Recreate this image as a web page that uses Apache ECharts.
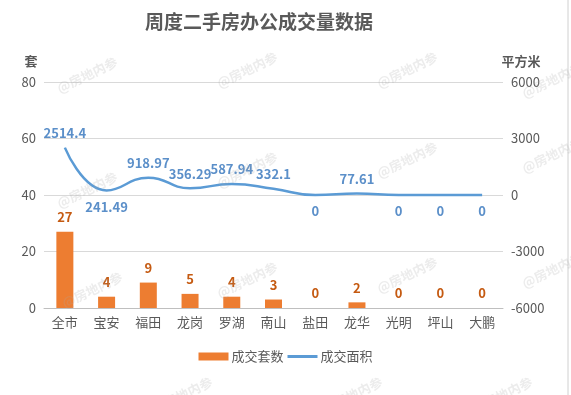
<!DOCTYPE html>
<html><head><meta charset="utf-8">
<script src="https://cdn.jsdelivr.net/npm/echarts@6/dist/echarts.min.js"></script>
<style>html,body{margin:0;padding:0;background:#fff}#c{width:571px;height:395px}</style>
</head><body><div id="c"></div>
<script>
const categories = ['全市','宝安','福田','龙岗','罗湖','南山','盐田','龙华','光明','坪山','大鹏'];
const units = [27,4,9,5,4,3,0,2,0,0,0];
const area = [2514.4,241.49,918.97,356.29,587.94,332.1,0,77.61,0,0,0];
const areaLabelBelow = [false,true,false,false,false,false,true,false,true,true,true];
const leftTicks = [0,80,20];
const rightTicks = [-6000,6000,3000];

const font = '"Noto Sans CJK SC", sans-serif';
const chart = echarts.init(document.getElementById('c'));
const wm = [];
const wmPos = [[55,55],[215,50],[375,50],[520,60],[55,170],[215,150],[375,140],[520,135],[60,270],[215,260],[375,255],[520,250],[150,375],[320,375],[470,375]];
wmPos.forEach(p=>wm.push({type:'text',left:p[0],top:p[1],rotation:Math.PI/7,z:100,style:{text:'@房地内参',fill:'rgba(170,170,170,0.22)',font:'bold 13px '+font}}));
chart.setOption({
  animation:false,
  textStyle:{fontFamily:font},
  title:{text:'周度二手房办公成交量数据',left:140,top:7,textStyle:{fontSize:19,fontWeight:'bold',color:'#595959',fontFamily:font}},
  legend:{bottom:27,left:'center',itemGap:4,itemWidth:30,itemHeight:8,textStyle:{color:'#595959',fontSize:13,padding:[0,0,0,-2]},
    data:[{name:'成交套数',icon:'rect'},{name:'成交面积',icon:'path://M0,0h30v3h-30z'}]},
  grid:{left:44,right:68,top:82,bottom:87},
  xAxis:{type:'category',data:categories,axisTick:{show:false},axisLine:{lineStyle:{color:'#bfbfbf'}},
    axisLabel:{color:'#595959',fontSize:13,margin:8}},
  yAxis:[
    {type:'value',min:leftTicks[0],max:leftTicks[1],interval:leftTicks[2],name:'套',nameGap:14,nameTextStyle:{color:'#595959',fontSize:13,fontWeight:'bold',padding:[0,26,0,0]},
     axisLabel:{color:'#595959',fontSize:13,margin:8},splitLine:{lineStyle:{color:'#d9d9d9'}},axisLine:{show:false}},
    {type:'value',min:rightTicks[0],max:rightTicks[1],interval:rightTicks[2],name:'平方米',nameGap:14,nameTextStyle:{color:'#595959',fontSize:13,fontWeight:'bold',padding:[0,0,0,36]},
     axisLabel:{color:'#595959',fontSize:13,margin:8,formatter:v=>String(v)},splitLine:{show:false},axisLine:{show:false}}
  ],
  series:[
    {name:'成交套数',type:'bar',data:units,barWidth:17,itemStyle:{color:'#ED7D31'},
     label:{show:true,position:'top',color:'#C55A11',fontWeight:'bold',fontSize:13,distance:8}},
    {name:'成交面积',type:'line',yAxisIndex:1,smooth:0.5,symbol:'circle',symbolSize:0.1,showSymbol:true,
     data:area.map((v,i)=>({value:v,label:{position:areaLabelBelow[i]?'bottom':'top',distance:areaLabelBelow[i]?10:8}})),
     lineStyle:{color:'#5B9BD5',width:2.5},itemStyle:{color:'#5B9BD5'},
     label:{show:true,color:'#5B8FC9',fontWeight:'bold',fontSize:13}}
  ],
  graphic:wm.concat([{type:'line',shape:{x1:568,y1:0,x2:568,y2:395},style:{stroke:'#d0d0d0',lineWidth:1}}])
});
</script></body></html>
